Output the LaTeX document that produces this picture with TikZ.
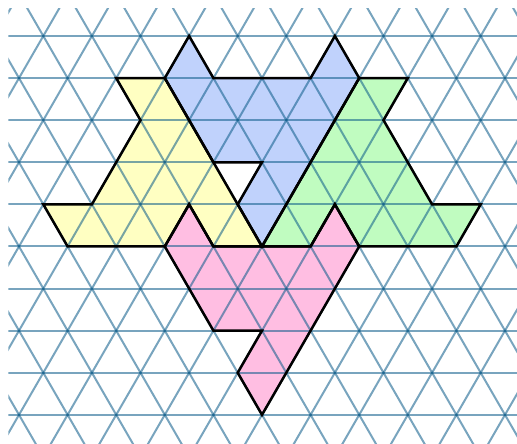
\documentclass[tikz,border=0pt]{standalone}
\definecolor{gridc}{RGB}{10,91,137}
\definecolor{fyellow}{RGB}{255,255,194}
\definecolor{fblue}{RGB}{192,210,252}
\definecolor{fgreen}{RGB}{192,252,192}
\definecolor{fpink}{RGB}{255,190,226}
\tikzset{
  gridline/.style={draw=gridc, draw opacity=0.55, line width=1pt},
  piece/.style={draw=black, line width=1.25pt, line join=miter},
}
\begin{document}
\begin{tikzpicture}[x={(12.15pt,0pt)}, y={(0pt,-21.045pt)}]
\useasboundingbox (-1.782,-0.8553) rectangle (19.494,9.670);
\fill[white] (-1.782,-0.8553) rectangle (19.494,9.670);
% piece shapes
\def\blueshape{(6,0) -- (7,1) -- (11,1) -- (12,0) -- (13,1) -- (12,2) -- (11,3) -- (10,4) -- (9,5) -- (8,4) -- (9,3) -- (7,3) -- (5,1) -- cycle}
\def\yellowshape{(3,1) -- (5,1) -- (7,3) -- (8,4) -- (9,5) -- (7,5) -- (6,4) -- (5,5) -- (1,5) -- (0,4) -- (2,4) -- (4,2) -- cycle}
\def\greenshape{(13,1) -- (15,1) -- (14,2) -- (16,4) -- (18,4) -- (17,5) -- (13,5) -- (12,4) -- (11,5) -- (9,5) -- (10,4) -- (11,3) -- (12,2) -- cycle}
\def\pinkshape{(5,5) -- (6,4) -- (7,5) -- (11,5) -- (12,4) -- (13,5) -- (9,9) -- (8,8) -- (9,7) -- (7,7) -- cycle}
\fill[fblue] \blueshape;
\fill[fyellow] \yellowshape;
\fill[fgreen] \greenshape;
\fill[fpink] \pinkshape;
% grid
\begin{scope}
\clip (-1.44,-0.658) rectangle (19.6,9.8);
\foreach \r in {-1,...,10} { \draw[gridline] (-3,\r) -- (21,\r); }
\foreach \k in {-14,-12,...,22} { \draw[gridline] (\k-1,-1) -- (\k+10,10); }
\foreach \k in {-2,0,...,32} { \draw[gridline] (\k+1,-1) -- (\k-10,10); }
\end{scope}
% outlines
\draw[piece] \blueshape;
\draw[piece] \yellowshape;
\draw[piece] \greenshape;
\draw[piece] \pinkshape;
\end{tikzpicture}
\end{document}
